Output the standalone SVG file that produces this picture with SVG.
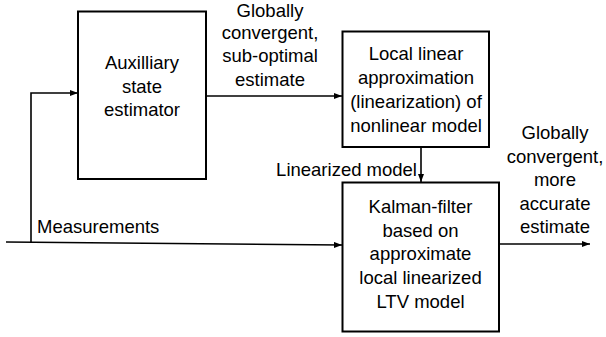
<svg xmlns="http://www.w3.org/2000/svg" width="606" height="337" viewBox="0 0 606 337">
<style>
.box{fill:#fff;stroke:#000;stroke-width:2}
.ln{fill:none;stroke:#000;stroke-width:1.6}
text{font-family:"Liberation Sans",Arial,sans-serif;font-size:18.5px;fill:#000}
.c{text-anchor:middle}
</style>
<defs>
<marker id="ah" viewBox="0 0 8 6" refX="8" refY="3" markerWidth="5" markerHeight="3.75" orient="auto" markerUnits="strokeWidth">
<path d="M0,0 L8,3 L0,6 Z" fill="#000"/>
</marker>
</defs>
<g id="connectors">
<line class="ln" x1="206" y1="96" x2="342" y2="96" marker-end="url(#ah)"/>
<line class="ln" x1="6" y1="242" x2="342" y2="245" marker-end="url(#ah)"/>
<polyline class="ln" points="31,242 31,93 78,93" marker-end="url(#ah)"/>
<line class="ln" x1="421" y1="147" x2="421" y2="182" marker-end="url(#ah)"/>
<line class="ln" x1="499" y1="244" x2="590" y2="244" marker-end="url(#ah)"/>
<text x="270" y="16.5" class="c">Globally</text>
<text x="270" y="39" class="c">convergent,</text>
<text x="270" y="62" class="c">sub-optimal</text>
<text x="270" y="86" class="c">estimate</text>
<text x="417" y="176" text-anchor="end">Linearized model</text>
<text x="37" y="233">Measurements</text>
<text x="555" y="139" class="c">Globally</text>
<text x="555" y="162.5" class="c">convergent,</text>
<text x="555" y="186" class="c">more</text>
<text x="555" y="209.5" class="c">accurate</text>
<text x="555" y="233" class="c">estimate</text>
</g>
<g id="aux">
<rect class="box" x="78" y="11.5" width="128" height="167.5"/>
<text x="142" y="69" class="c">Auxilliary</text>
<text x="142" y="92.5" class="c">state</text>
<text x="142" y="116" class="c">estimator</text>
</g>
<g id="lin">
<rect class="box" x="342.5" y="31.5" width="146.5" height="115.5"/>
<text x="416" y="60" class="c">Local linear</text>
<text x="416" y="84" class="c">approximation</text>
<text x="416" y="108" class="c">(linearization) of</text>
<text x="416" y="132" class="c">nonlinear model</text>
</g>
<g id="kalman">
<rect class="box" x="342.5" y="182.5" width="156.5" height="149"/>
<text x="420.5" y="213" class="c">Kalman-filter</text>
<text x="420.5" y="236.5" class="c">based on</text>
<text x="420.5" y="260" class="c">approximate</text>
<text x="420.5" y="283.5" class="c">local linearized</text>
<text x="420.5" y="307.5" class="c">LTV model</text>
</g>
</svg>
